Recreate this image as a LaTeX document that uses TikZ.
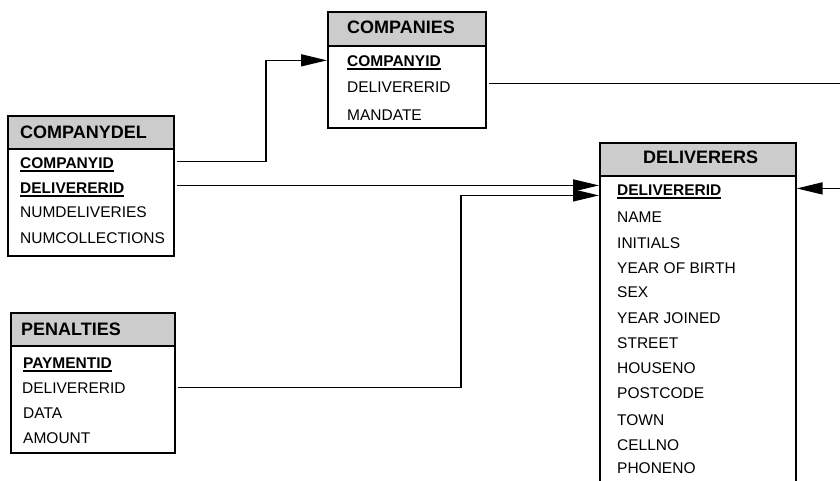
\documentclass[tikz,border=0pt]{standalone}
\usepackage{fontspec}
\setmainfont{Liberation Sans}
\usetikzlibrary{arrows.meta}
\definecolor{headgray}{HTML}{CCCCCC}
\newsavebox{\pkbox}
\newcommand{\pk}[1]{\sbox{\pkbox}{\bfseries #1}\usebox{\pkbox}\llap{\rule[-3.5pt]{\wd\pkbox}{1.4pt}}}

\begin{document}
\begin{tikzpicture}[x=1pt, y=-1pt,
    tblhead/.style={draw, fill=headgray, rectangle, anchor=north west, minimum height=34pt, inner sep=0pt, line width=1.6pt},
    tblbody/.style={draw, fill=white, rectangle, anchor=north west, inner sep=0pt, line width=1.6pt},
    tbltitle/.style={anchor=base west, inner sep=0pt, font=\fontsize{18}{20}\selectfont\bfseries},
    field/.style={anchor=base west, inner sep=0pt, font=\fontsize{15.5}{18}\selectfont},
    fk/.style={line width=1.4pt, -{Triangle[length=26pt, width=12pt]}}]
    \useasboundingbox (0,0) rectangle (840,480);
    \clip (0,0) rectangle (840,480);

    % Companies
    \node[tblhead, minimum width=158pt] (comp-head) at (327,11) {};
    \node[tblbody, minimum width=158pt, minimum height=82pt] (comp-body) at (327,45) {};
    \node[tbltitle] (comp-title) at (347,33) {COMPANIES};
    \node[field] (comp-1) at (347,66) {\pk{COMPANYID}};
    \node[field] (comp-2) at (347,92) {DELIVERERID};
    \node[field] (comp-3) at (347,120) {MANDATE};

    % Companydel
    \node[tblhead, minimum width=166pt] (cdel-head) at (7,115) {};
    \node[tblbody, minimum width=166pt, minimum height=107pt] (cdel-body) at (7,148) {};
    \node[tbltitle] (cdel-title) at (20,138) {COMPANYDEL};
    \node[field] (cdel-1) at (20,168) {\pk{COMPANYID}};
    \node[field] (cdel-2) at (20,193) {\pk{DELIVERERID}};
    \node[field] (cdel-3) at (20,217) {NUMDELIVERIES};
    \node[field] (cdel-4) at (20,243) {NUMCOLLECTIONS};

    % Penalties
    \node[tblhead, minimum width=164pt] (pen-head) at (10,312) {};
    \node[tblbody, minimum width=164pt, minimum height=107pt] (pen-body) at (10,345) {};
    \node[tbltitle] (pen-title) at (21,335) {PENALTIES};
    \node[field] (pen-1) at (23,368) {\pk{PAYMENTID}};
    \node[field] (pen-2) at (22,393) {DELIVERERID};
    \node[field] (pen-3) at (23,418) {DATA};
    \node[field] (pen-4) at (23,443) {AMOUNT};

    % Deliverers
    \node[tblhead, minimum width=196pt] (del-head) at (599,142) {};
    \node[tblbody, minimum width=196pt, minimum height=350pt] (del-body) at (599,175) {};
    \node[tbltitle] (del-title) at (643,163) {DELIVERERS};
    \node[field] (del-1) at (617,195) {\pk{DELIVERERID}};
    \node[field] (del-2) at (617,222) {NAME};
    \node[field] (del-3) at (617,248) {INITIALS};
    \node[field] (del-4) at (617,273) {YEAR OF BIRTH};
    \node[field] (del-5) at (617,297) {SEX};
    \node[field] (del-6) at (617,323) {YEAR JOINED};
    \node[field] (del-7) at (617,348) {STREET};
    \node[field] (del-8) at (617,373) {HOUSENO};
    \node[field] (del-9) at (617,398) {POSTCODE};
    \node[field] (del-10) at (617,425) {TOWN};
    \node[field] (del-11) at (617,450) {CELLNO};
    \node[field] (del-12) at (617,473) {PHONENO};

    % Connectors
    \coordinate (bend-cdel) at (266,0);
    \coordinate (bend-pen) at (461,0);
    \coordinate (bend-comp) at (860,0);
    \coordinate (comp-in) at ([yshift=2pt]comp-body.west |- comp-1);
    \coordinate (del-in-1) at ([yshift=6pt]del-body.west |- del-1);
    \coordinate (del-in-2) at ([yshift=-4pt]del-body.west |- del-1);
    \coordinate (del-in-3) at ([yshift=3pt]del-body.east |- del-1);

    \draw[fk] ([xshift=2pt,yshift=3pt]cdel-body.east |- cdel-1) -| (bend-cdel |- comp-in) -- (comp-in);
    \draw[fk] ([xshift=2pt]cdel-body.east |- del-in-1) -- (del-in-1);
    \draw[fk] ([xshift=2pt]pen-body.east |- pen-2) -| (bend-pen |- del-in-2) -- (del-in-2);
    \draw[fk] ([xshift=2pt,yshift=3pt]comp-body.east |- comp-2) -| (bend-comp |- del-in-3) -- (del-in-3);

\end{tikzpicture}
\end{document}
